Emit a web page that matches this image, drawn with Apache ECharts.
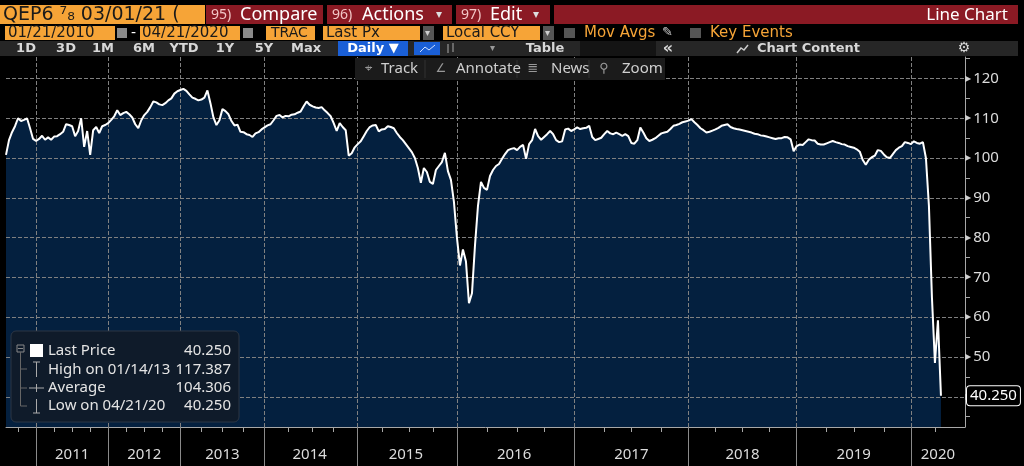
<!DOCTYPE html>
<html>
<head>
<meta charset="utf-8">
<script src="https://cdn.jsdelivr.net/npm/echarts@6/dist/echarts.min.js"></script>
<style>
html,body{margin:0;padding:0;background:#000;}
#chart{width:1024px;height:466px;}
</style>
</head>
<body>
<div id="chart"></div>
<script>
// ---- data ----
const years = [2010, 2011, 2012, 2013, 2014, 2015, 2016, 2017, 2018, 2019, 2020];
const v2010 = [100.8,104.5,106.5,108,110,109.3,109.6,110,107.5,104.8];
const v2011 = [104.3,104.8,105.6,104.6,105.2,104.6,105.4,105.5,106,106.6,108.5,108.3,108,105.5,106.8,110,102.8,106.8,100.8,107,107.8,106.3,108,108.3];
const v2012 = [108.8,109.6,110.5,112,110.8,111.3,111.6,111,110.2,108.5,107.5,109.5,110.8,111.6,112.8,114.2,114,113.5,113.3,113.8,114.5,115,116.2,116.8];
const v2013 = [117.1,117.39,116.9,116,115.2,114.9,114.5,114.7,115.2,117,113.8,110.2,108.3,109.5,112.3,111.8,111,109.3,108.2,108.4,106.6,106.5,106,105.8,105.3,106.2,106.5,107.2];
const v2014 = [107.7,108.2,108.5,109.5,110.6,110.8,110.2,110.6,110.5,110.9,111,111.4,111.7,113,114.2,113.4,113,112.7,112.6,112.8,112,111.3,110.5,108.8,106.8,108.8,107.8,107,100.6,101.2,102.7];
const v2015 = [103.5,104.2,105.5,106.8,107.8,108.2,108.3,106.7,107.2,107.3,108,107.8,107.5,106.3,105.3,104.5,103.5,102.5,101.5,100,97.5,93.8,97.5,96.5,94,93.5,97,98,99,101.3,96.7,94.5,89];
const v2016 = [80,73,77,74,63.5,66,78,88,94,92.5,92,95.5,97,98,98.5,99.8,101,102,102.3,102.5,102,102.8,103.3,99.8,103.5,104.5,107.3,105.5,104.6,105.3,106,106.8,106,104.5,104,104.2,107.2,107.4,106.8];
const v2017 = [107.2,107.7,107.3,107.5,107.6,108.1,105.3,104.5,104.8,105.1,106,106.8,106.2,106,106.4,106,105.6,106,105.5,103.8,103.6,104.5,107.7,106.4,105,104.3,104.6,105,105.6,106.2,106.4,106.6,107.3,108.1,108.3,108.6,109,109.2];
const v2018 = [109.4,109.8,109,108.3,107.5,107,106.4,106.6,106.9,107.2,107.6,108.1,108.3,108.5,107.8,107.5,107.3,107.2,107,106.8,106.6,106.4,106.1,106,105.7,105.6,105.4,105.2,105,104.8,105,105,105.3,105.2,104.7,101.7];
const v2019 = [103,103.4,103.3,104,104.7,104.5,104.4,103.6,103.4,103.4,103.7,104,104.3,104,103.8,103.5,103.4,103,102.8,102.6,102.2,101.6,99.5,98.3,99.6,100.2,100.6,102,101.8,100.9,100.2,100,101,102,102.6,103,104,103.8];
const v2020 = [103.5,104.2,103.8,103.6,104,100,88,65,48.5,59.2,40.25];
const yearValues = [v2010, v2011, v2012, v2013, v2014, v2015, v2016, v2017, v2018, v2019, v2020];

const yAxisMin = 32.4;
const yAxisMax = 125.4;
const lastPrice = 40.25;
const statLabels = ['Last Price', 'High on 01/14/13', 'Average', 'Low on 04/21/20'];
const statValues = ['40.250', '117.387', '104.306', '40.250'];

// ---- build category axis from the yearly arrays ----
const padSlots = 8; // empty room on the axis after the last price
const categories = [], prices = [];
const majorSet = new Set(), midSet = new Set(), minorSet = new Set();
years.forEach((y, k) => {
  const vals = yearValues[k];
  const start = categories.length;
  const n = vals.length + (k === years.length - 1 ? padSlots : 0);
  if (k > 0) { majorSet.add(start); midSet.add(start + Math.floor(n / 2)); }
  if (k === 0) minorSet.add(start + 4);
  else if (k === years.length - 1) minorSet.add(start + 8);
  else [1, 2, 3].forEach(q => minorSet.add(start + Math.round(vals.length * q / 4)));
  vals.forEach((v, i) => { categories.push(y + '-' + (i + 1)); prices.push(v); });
});
for (let i = 0; i < padSlots; i++) categories.push('2020-p' + i);

// ---- decoration (terminal toolbar, stats box) ----
const ORANGE = '#f6a437', RED = '#8b1a24', FF = '"DejaVu Sans"', NF = '"Noto Sans"';
const G = [];
function box(x, y, w, h, fill, extra) {
  G.push(Object.assign({ type: 'rect', z: 100, silent: true, shape: { x, y, width: w, height: h }, style: { fill } }, extra || {}));
}
function txt(x, y, text, opt) {
  const st = Object.assign({ text, fill: '#fff', font: '15px ' + NF, align: 'left', verticalAlign: 'middle' }, opt || {});
  st.textAlign = st.align; st.textVerticalAlign = st.verticalAlign;
  G.push({ type: 'text', z: 101, silent: true, x, y, style: st });
}
function line(x1, y1, x2, y2, color) {
  G.push({ type: 'line', z: 101, silent: true, shape: { x1, y1, x2, y2 }, style: { stroke: color, lineWidth: 1 } });
}
// row 1
box(0, 5, 205, 19, ORANGE);
txt(3, 15, 'QEP6 \u2077\u2088 03/01/21 (', { fill: '#1a1a1a', font: '19px ' + FF });
box(206, 5, 117, 19, RED);
txt(211, 15, '95)', { fill: '#f2c6c6', font: '14px ' + NF });
txt(240, 15, 'Compare', { font: '18px ' + NF });
box(327, 5, 125, 19, RED);
txt(332, 15, '96)', { fill: '#f2c6c6', font: '14px ' + NF });
txt(362, 15, 'Actions', { font: '18px ' + NF });
txt(436, 15, '\u25BE', { font: '12px ' + FF, fill: '#ddd' });
box(456, 5, 94, 19, RED);
txt(461, 15, '97)', { fill: '#f2c6c6', font: '14px ' + NF });
txt(490, 15, 'Edit', { font: '18px ' + NF });
txt(533, 15, '\u25BE', { font: '12px ' + FF, fill: '#ddd' });
box(554, 5, 464, 19, RED);
txt(1008, 15, 'Line Chart', { font: '17px ' + NF, align: 'right' });
// row 2
box(5, 26, 110, 14, ORANGE);
txt(8, 33.5, '01/21/2010', { fill: '#1a1a1a', font: '15px ' + FF });
box(117, 28, 10, 10, '#8a8a8a');
txt(131, 33, '-', { font: '14px ' + FF });
box(140, 26, 100, 14, ORANGE);
txt(142, 33.5, '04/21/2020', { fill: '#1a1a1a', font: '15px ' + FF });
box(243, 28, 10, 10, '#8a8a8a');
box(266, 26, 49, 14, ORANGE);
txt(271, 33.5, 'TRAC', { fill: '#1a1a1a', font: '14px ' + FF });
box(323, 26, 97, 14, ORANGE);
txt(326, 33.5, 'Last Px', { fill: '#1a1a1a', font: '15px ' + FF });
box(423, 26, 11, 14, '#555');
txt(425, 33, '\u25BE', { font: '10px ' + FF, fill: '#ccc' });
box(443, 26, 97, 14, ORANGE);
txt(446, 33.5, 'Local CCY', { fill: '#1a1a1a', font: '15px ' + FF });
box(543, 26, 11, 14, '#555');
txt(545, 33, '\u25BE', { font: '10px ' + FF, fill: '#ccc' });
box(564, 28, 11, 10, '#555');
txt(584, 33.5, 'Mov Avgs', { fill: ORANGE, font: '15px ' + FF });
txt(662, 33, '\u270E', { fill: '#ccc', font: '13px ' + FF });
box(690, 28, 11, 10, '#555');
txt(710, 33.5, 'Key Events', { fill: ORANGE, font: '15px ' + FF });
// row 3
box(0, 41, 1018, 15, '#262626');
box(580, 41, 76, 15, '#141414');
[['1D', 26], ['3D', 66], ['1M', 103], ['6M', 144], ['YTD', 184], ['1Y', 225], ['5Y', 264], ['Max', 306]].forEach(b =>
  txt(b[1], 48.5, b[0], { align: 'center', font: 'bold 13px ' + FF, fill: '#d8d8d8' }));
box(338, 41, 70, 15, '#1a5fd6');
txt(373, 48.5, 'Daily \u25BC', { align: 'center', font: 'bold 13px ' + FF, fill: '#fff' });
box(414, 42, 26, 13, '#1a5fd6');
G.push({ type: 'polyline', z: 101, silent: true, shape: { points: [[420, 52], [425, 47], [429, 50], [435, 45]] }, style: { stroke: '#cfe0ff', lineWidth: 1, fill: null } });
line(448, 44, 448, 53, '#aaa'); line(453, 43, 453, 52, '#aaa');
txt(490, 48.5, '\u25BE', { font: '10px ' + FF, fill: '#999' });
txt(545, 48.5, 'Table', { align: 'center', font: 'bold 13px ' + FF, fill: '#d8d8d8' });
txt(668, 48.5, '\u00AB', { align: 'center', font: 'bold 16px ' + FF, fill: '#d8d8d8' });
G.push({ type: 'polyline', z: 101, silent: true, shape: { points: [[737, 53], [741, 48], [744, 50], [748, 45]] }, style: { stroke: '#ccc', lineWidth: 1.5, fill: null } });
txt(757, 48.5, 'Chart Content', { font: 'bold 13px ' + FF, fill: '#d8d8d8' });
txt(964, 48.5, '\u2699', { align: 'center', font: 'bold 14px ' + FF, fill: '#d8d8d8' });
// row 4 (chart tool buttons)
box(355, 58, 310, 22, '#1b1b1b');
[425, 517, 589].forEach(x => line(x, 60, x, 78, '#333'));
txt(368, 69, '\u2316', { align: 'center', fill: '#999', font: '13px ' + FF });
txt(381, 69, 'Track', { fill: '#cfcfcf', font: '15px ' + NF });
txt(441, 69, '\u2220', { align: 'center', fill: '#999', font: '12px ' + FF });
txt(456, 69, 'Annotate', { fill: '#cfcfcf', font: '15px ' + NF });
txt(533, 69, '\u2263', { align: 'center', fill: '#999', font: '13px ' + FF });
txt(551, 69, 'News', { fill: '#cfcfcf', font: '15px ' + NF });
txt(604, 69, '\u26B2', { align: 'center', fill: '#999', font: '13px ' + FF });
txt(622, 69, 'Zoom', { fill: '#cfcfcf', font: '15px ' + NF });
// stats box
G.push({ type: 'rect', z: 100, silent: true, shape: { x: 11, y: 331, width: 228, height: 91, r: 5 }, style: { fill: '#0f1b2a', stroke: '#2c3644', lineWidth: 1 } });
box(17, 345, 7, 7, null, { style: { fill: null, stroke: '#888', lineWidth: 1 } });
line(18, 348.5, 23, 348.5, '#888');
line(20.5, 352, 20.5, 406, '#666');
[369, 388, 406].forEach(y => line(20.5, y, 27, y, '#666'));
box(30, 344, 13, 13, '#ffffff');
line(36.5, 362, 36.5, 377, '#aaa'); line(33, 362, 40, 362, '#aaa');
line(29, 388, 44, 388, '#aaa'); line(36.5, 384, 36.5, 392, '#aaa');
line(36.5, 399, 36.5, 413, '#aaa'); line(33, 413, 40, 413, '#aaa');
const rowY = [350.5, 369.5, 388, 406];
statLabels.forEach((s, i) => {
  txt(48, rowY[i], s, { fill: '#e4e4e4', font: '15px ' + NF });
  txt(231, rowY[i], statValues[i], { fill: '#e4e4e4', font: '15px ' + NF, align: 'right' });
});

// ---- chart ----
const chart = echarts.init(document.getElementById('chart'));
chart.setOption({
  backgroundColor: '#000',
  animation: false,
  grid: { left: 6, right: 59, top: 57, bottom: 39, containLabel: false, show: false },
  xAxis: [{
    type: 'category', data: categories, boundaryGap: false, position: 'bottom', z: 2,
    axisLine: { show: true, lineStyle: { color: '#a8a8a8', width: 1 } },
    axisTick: { show: true, interval: i => majorSet.has(i), length: 40, lineStyle: { color: '#8a8a8a' } },
    axisLabel: { show: true, interval: i => midSet.has(i), formatter: v => v.slice(0, 4), color: '#dcdcdc', fontSize: 15, fontFamily: 'Noto Sans', margin: 20 },
    splitLine: { show: true, interval: i => majorSet.has(i), lineStyle: { color: '#808080', width: 1, type: 'dashed' } }
  }, {
    type: 'category', data: categories, boundaryGap: false, position: 'bottom', z: 2,
    axisLine: { show: false },
    axisTick: { show: true, interval: i => minorSet.has(i), length: 5, lineStyle: { color: '#a8a8a8' } },
    axisLabel: { show: false },
    splitLine: { show: false }
  }],
  yAxis: {
    type: 'value', position: 'right', min: yAxisMin, max: yAxisMax, splitNumber: 9, z: 2,
    axisLine: { show: true, lineStyle: { color: '#a8a8a8', width: 1 } },
    axisTick: { show: false },
    minorTick: { show: true, splitNumber: 2, length: 5, lineStyle: { color: '#a8a8a8' } },
    axisLabel: {
      show: true, showMinLabel: false, showMaxLabel: false, margin: 0,
      formatter: v => '{t|\u25B6}{v|' + v + '}',
      rich: {
        t: { fontSize: 8, color: '#cfcfcf', fontFamily: 'DejaVu Sans', padding: [0, 2, 0, 0] },
        v: { fontSize: 15, color: '#dcdcdc', fontFamily: 'Noto Sans' }
      }
    },
    splitLine: { show: true, showMaxLine: false, lineStyle: { color: '#808080', width: 1, type: 'dashed' } },
    axisPointer: {
      show: true, status: 'show', value: lastPrice, triggerTooltip: false,
      lineStyle: { opacity: 0 },
      label: {
        show: true, formatter: p => Number(p.value).toFixed(3), margin: 2,
        color: '#fff', backgroundColor: '#000', borderColor: '#fff', borderWidth: 1,
        fontSize: 15, fontFamily: 'Noto Sans', padding: [2, 3, 2, 3]
      }
    }
  },
  series: [{
    type: 'line', data: prices, xAxisIndex: 0, yAxisIndex: 0, z: 1,
    symbol: 'none', showSymbol: false, clip: true, silent: true,
    lineStyle: { width: 0, opacity: 0 },
    areaStyle: { color: '#04203f', opacity: 1, origin: 'start' }
  }, {
    type: 'line', data: prices, xAxisIndex: 0, yAxisIndex: 0, z: 3,
    symbol: 'none', showSymbol: false, clip: true,
    lineStyle: { color: '#ffffff', width: 2 }
  }],
  graphic: { elements: G }
});
</script>
</body>
</html>
